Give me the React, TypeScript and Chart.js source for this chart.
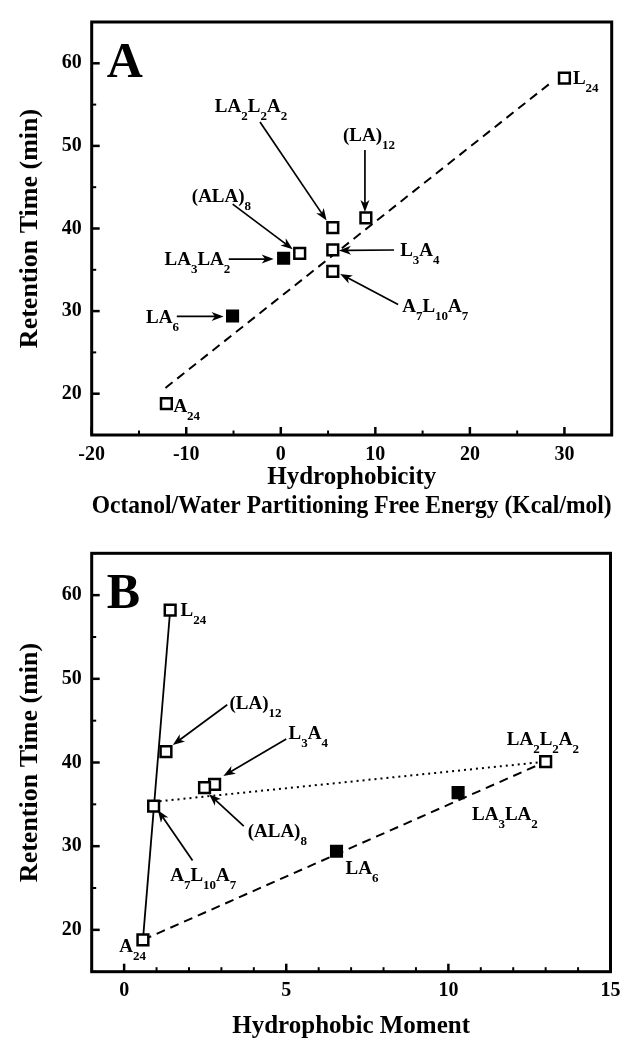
import React, { useEffect, useRef } from 'react';
import { Chart, registerables } from 'chart.js';

Chart.register(...registerables);

const FONT = '"Liberation Serif", "Times New Roman", serif';

// ---------- data ----------
const peptides = ['L_24', '(LA)_12', 'LA_2L_2A_2', 'L_3A_4', '(ALA)_8', 'A_7L_10A_7', 'A_24', 'LA_3LA_2', 'LA_6'];
const filledMarker = [false, false, false, false, false, false, false, true, true];
const retentionTime = [58.2, 41.3, 40.1, 37.4, 37.0, 34.8, 18.8, 36.4, 29.4];
const hydrophobicity = [30.0, 9.0, 5.5, 5.5, 2.0, 5.5, -12.1, 0.3, -5.1];
const hydrophobicMoment = [1.42, 1.29, 13.0, 2.79, 2.48, 0.91, 0.58, 10.3, 6.55];

const yTicks = [20, 30, 40, 50, 60];
const xTicksA = [-20, -10, 0, 10, 20, 30];
const xTicksB = [0, 5, 10, 15];

// fitted / connecting lines
const fitA_x = [-12.2, 28.4];
const fitA_y = [20.7, 57.5];
const solidB_x = [0.58, 1.42];
const solidB_y = [18.8, 58.2];
const dottedB_x = [0.91, 13.0];
const dottedB_y = [35.3, 40.1];
const dashedB_x = [0.58, 13.0];
const dashedB_y = [18.8, 40.1];

// annotations (label anchor + optional arrow, in data units)
const annotationsA = [
  { p: 2, x: -3.15, y: 54.9, align: 'center', arrow: [-2.2, 52.9, 4.85, 40.96] },
  { p: 1, x: 6.58, y: 51.3, align: 'left', arrow: [8.9, 49.5, 8.9, 42.0] },
  { p: 4, x: -9.41, y: 43.95, align: 'left', arrow: [-5.09, 42.95, 1.26, 37.5] },
  { p: 3, x: 12.63, y: 37.4, align: 'left', arrow: [11.98, 37.4, 6.15, 37.35] },
  { p: 7, x: -12.3, y: 36.3, align: 'left', arrow: [-5.5, 36.3, -0.75, 36.3] },
  { p: 5, x: 12.84, y: 30.6, align: 'left', arrow: [12.41, 30.8, 6.28, 34.5] },
  { p: 8, x: -14.25, y: 29.3, align: 'left', arrow: [-11.0, 29.35, -6.05, 29.35] },
  { p: 0, x: 30.9, y: 58.2, align: 'left' },
  { p: 6, x: -11.36, y: 18.6, align: 'left' },
];
const annotationsB = [
  { p: 0, x: 1.74, y: 58.3, align: 'left' },
  { p: 1, x: 3.25, y: 47.1, align: 'left', arrow: [3.18, 46.9, 1.5, 42.1] },
  { p: 3, x: 5.07, y: 43.5, align: 'left', arrow: [5.0, 42.8, 3.06, 38.4] },
  { p: 2, x: 11.8, y: 42.9, align: 'left' },
  { p: 4, x: 3.81, y: 31.8, align: 'left', arrow: [3.69, 32.4, 2.62, 36.2] },
  { p: 5, x: 1.42, y: 26.6, align: 'left', arrow: [2.11, 28.3, 1.04, 34.3] },
  { p: 7, x: 10.73, y: 33.9, align: 'left' },
  { p: 8, x: 6.83, y: 27.4, align: 'left' },
  { p: 6, x: -0.15, y: 18.1, align: 'left' },
];

// ---------- drawing helpers ----------
function drawRich(ctx: CanvasRenderingContext2D, text: string, x: number, yMid: number, align: string) {
  const parts = text.split(/_(\d+)/);
  const mainF = `bold 19px ${FONT}`;
  const subF = `bold 13px ${FONT}`;
  const widths: number[] = [];
  let total = 0;
  parts.forEach((p, i) => {
    ctx.font = i % 2 ? subF : mainF;
    const w = ctx.measureText(p).width;
    widths.push(w);
    total += w;
  });
  let cx = align === 'center' ? x - total / 2 : x;
  const base = yMid + 19 * 0.33;
  ctx.textAlign = 'left';
  ctx.textBaseline = 'alphabetic';
  parts.forEach((p, i) => {
    ctx.font = i % 2 ? subF : mainF;
    ctx.fillText(p, cx, i % 2 ? base + 8 : base);
    cx += widths[i];
  });
}

function drawArrow(ctx: CanvasRenderingContext2D, x1: number, y1: number, x2: number, y2: number) {
  const ang = Math.atan2(y2 - y1, x2 - x1);
  const hl = 12, hw = 4.5;
  const c = Math.cos(ang), s = Math.sin(ang);
  const bx = x2 - hl * c, by = y2 - hl * s;
  ctx.lineWidth = 1.7;
  ctx.beginPath();
  ctx.moveTo(x1, y1);
  ctx.lineTo(x2 - hl * 0.7 * c, y2 - hl * 0.7 * s);
  ctx.stroke();
  ctx.beginPath();
  ctx.moveTo(x2, y2);
  ctx.lineTo(bx - hw * s, by + hw * c);
  ctx.lineTo(x2 - hl * 0.72 * c, y2 - hl * 0.72 * s);
  ctx.lineTo(bx + hw * s, by - hw * c);
  ctx.closePath();
  ctx.fill();
}

function makeDecor(cfg: { letter: string; xMajor: number[]; xStep: number; annotations: any[] }) {
  return {
    id: 'decor' + cfg.letter,
    afterDatasetsDraw(chart: any) {
      const { ctx, chartArea: ca } = chart;
      const xs = chart.scales.x, ys = chart.scales.y;
      ctx.save();
      ctx.strokeStyle = '#000';
      ctx.fillStyle = '#000';
      // frame
      ctx.lineWidth = 3;
      ctx.strokeRect(ca.left, ca.top, ca.right - ca.left, ca.bottom - ca.top);
      // x tick marks (inward)
      for (let v = xs.min; v <= xs.max + 1e-6; v += cfg.xStep) {
        const major = cfg.xMajor.some((m) => Math.abs(m - v) < 1e-6);
        const px = xs.getPixelForValue(v);
        ctx.lineWidth = major ? 2.5 : 2;
        ctx.beginPath();
        ctx.moveTo(px, ca.bottom);
        ctx.lineTo(px, ca.bottom - (major ? 8 : 4.5));
        ctx.stroke();
      }
      // y tick marks (inward)
      for (let v = ys.min; v <= ys.max + 1e-6; v += 5) {
        const major = yTicks.some((m) => Math.abs(m - v) < 1e-6);
        const py = ys.getPixelForValue(v);
        ctx.lineWidth = major ? 2.5 : 2;
        ctx.beginPath();
        ctx.moveTo(ca.left, py);
        ctx.lineTo(ca.left + (major ? 8 : 4.5), py);
        ctx.stroke();
      }
      // panel letter
      ctx.font = `bold 50px ${FONT}`;
      ctx.textAlign = 'left';
      ctx.textBaseline = 'alphabetic';
      ctx.fillText(cfg.letter, ca.left + 15, ca.top + 55);
      // annotations
      for (const a of cfg.annotations) {
        if (a.arrow) {
          drawArrow(
            ctx,
            xs.getPixelForValue(a.arrow[0]), ys.getPixelForValue(a.arrow[1]),
            xs.getPixelForValue(a.arrow[2]), ys.getPixelForValue(a.arrow[3])
          );
        }
        drawRich(ctx, peptides[a.p], xs.getPixelForValue(a.x), ys.getPixelForValue(a.y), a.align);
      }
      ctx.restore();
    },
  };
}

function markerDatasets(xVals: number[]) {
  const open = peptides.map((_, i) => i).filter((i) => !filledMarker[i]);
  const full = peptides.map((_, i) => i).filter((i) => filledMarker[i]);
  return [
    {
      label: 'open',
      data: open.map((i) => ({ x: xVals[i], y: retentionTime[i] })),
      pointStyle: 'rect',
      pointRadius: 7.6,
      pointBackgroundColor: '#fff',
      pointBorderColor: '#000',
      pointBorderWidth: 2.5,
      showLine: false,
      order: 0,
    },
    {
      label: 'filled',
      data: full.map((i) => ({ x: xVals[i], y: retentionTime[i] })),
      pointStyle: 'rect',
      pointRadius: 8.2,
      pointBackgroundColor: '#000',
      pointBorderColor: '#000',
      pointBorderWidth: 1.5,
      showLine: false,
      order: 0,
    },
  ];
}

function lineDataset(xs: number[], ys: number[], dash: number[], width: number) {
  return {
    label: 'line',
    data: xs.map((x, i) => ({ x, y: ys[i] })),
    showLine: true,
    borderColor: '#000',
    borderWidth: width,
    borderDash: dash,
    pointRadius: 0,
    fill: false,
    order: 1,
  };
}

function baseOptions(o: {
  xMin: number; xMax: number; xTicks: number[]; xTitle: string[] | string; xTitlePad: number;
  xLabelPad: number; xHeight: number; padTop: number; padRight: number;
}) {
  return {
    animation: false,
    responsive: false,
    maintainAspectRatio: false,
    layout: { padding: { left: 0, right: o.padRight, top: o.padTop, bottom: 0 } },
    plugins: { legend: { display: false }, tooltip: { enabled: false } },
    scales: {
      x: {
        type: 'linear',
        min: o.xMin,
        max: o.xMax,
        afterBuildTicks: (s: any) => { s.ticks = o.xTicks.map((v) => ({ value: v })); },
        afterFit: (s: any) => { s.height = o.xHeight; },
        grid: { display: false, drawTicks: false },
        border: { display: false },
        ticks: {
          autoSkip: false,
          maxRotation: 0,
          padding: o.xLabelPad,
          color: '#000',
          font: { family: FONT, size: 20, weight: 'bold' },
          callback: (v: any) => String(v),
        },
        title: {
          display: true,
          text: o.xTitle,
          color: '#000',
          font: { family: FONT, size: 25, weight: 'bold', lineHeight: 1.16 },
          padding: { top: 0, bottom: o.xTitlePad },
        },
      },
      y: {
        type: 'linear',
        min: 15,
        max: 65,
        afterBuildTicks: (s: any) => { s.ticks = yTicks.map((v) => ({ value: v })); },
        afterFit: (s: any) => { s.width = 91.7; },
        grid: { display: false, drawTicks: false },
        border: { display: false },
        ticks: {
          padding: 10,
          color: '#000',
          font: { family: FONT, size: 20, weight: 'bold' },
          callback: (v: any) => String(v),
        },
        title: {
          display: true,
          text: 'Retention Time (min)',
          color: '#000',
          font: { family: FONT, size: 26, weight: 'bold', lineHeight: 1.2 },
          padding: { top: 15, bottom: 0 },
        },
      },
    },
  };
}

function App() {
  const refA = useRef<HTMLCanvasElement>(null);
  const refB = useRef<HTMLCanvasElement>(null);

  useEffect(() => {
    Chart.defaults.font.family = FONT;
    Chart.defaults.color = '#000';

    const chartA = new Chart(refA.current as HTMLCanvasElement, {
      type: 'scatter',
      data: {
        datasets: [
          ...markerDatasets(hydrophobicity),
          lineDataset(fitA_x, fitA_y, [9, 6], 2),
        ] as any,
      },
      options: baseOptions({
        xMin: -20, xMax: 35, xTicks: xTicksA,
        xTitle: ['Hydrophobicity', 'Octanol/Water Partitioning Free Energy (Kcal/mol)'],
        xTitlePad: 3.5, xLabelPad: 8, xHeight: 90, padTop: 17.3, padRight: 32.3,
      }) as any,
      plugins: [makeDecor({ letter: 'A', xMajor: xTicksA, xStep: 5, annotations: annotationsA })],
    });

    const chartB = new Chart(refB.current as HTMLCanvasElement, {
      type: 'scatter',
      data: {
        datasets: [
          ...markerDatasets(hydrophobicMoment),
          lineDataset(solidB_x, solidB_y, [], 1.8),
          lineDataset(dottedB_x, dottedB_y, [2, 4], 2),
          lineDataset(dashedB_x, dashedB_y, [9, 6], 2),
        ] as any,
      },
      options: baseOptions({
        xMin: -1, xMax: 15, xTicks: xTicksB,
        xTitle: 'Hydrophobic Moment',
        xTitlePad: 8.8, xLabelPad: 7, xHeight: 78.3, padTop: 28.3, padRight: 33.5,
      }) as any,
      plugins: [makeDecor({ letter: 'B', xMajor: xTicksB, xStep: 1, annotations: annotationsB })],
    });

    return () => {
      chartA.destroy();
      chartB.destroy();
    };
  }, []);

  return (
    <div style={{ position: 'absolute', left: 0, top: 0, width: 644, height: 1050, background: '#fff' }}>
      <canvas ref={refA} width={644} height={525} style={{ position: 'absolute', left: 0, top: 0 }} />
      <canvas ref={refB} width={644} height={525} style={{ position: 'absolute', left: 0, top: 525 }} />
    </div>
  );
}

export default App;
